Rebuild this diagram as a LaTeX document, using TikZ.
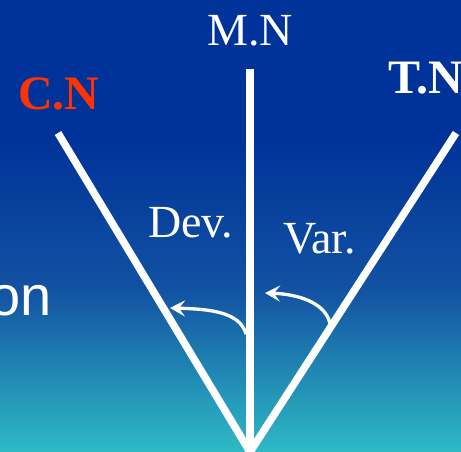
\documentclass[tikz,border=0pt]{standalone}
\usepackage{fontspec}
\setmainfont{Liberation Serif}
\newfontfamily\arialfont{Liberation Sans}
\usetikzlibrary{arrows.meta}
\definecolor{topblue}{RGB}{0,51,153}
\definecolor{midblue}{RGB}{18,82,162}
\definecolor{botteal}{RGB}{46,186,196}
\definecolor{cnred}{RGB}{255,51,0}
\tikzset{
  axisline/.style={white, line width=7.5pt},
  turnarrow/.style={white, line width=3.3pt, -{Stealth[length=15pt,width=16pt,inset=6pt]}},
  lbl/.style={inner sep=0pt, text=white, font=\fontsize{46}{50}\selectfont},
  boldlbl/.style={lbl, font=\fontsize{48}{52}\selectfont\bfseries},
}
\begin{document}
\begin{tikzpicture}[x=1pt,y=-1pt]
\useasboundingbox (0,0) rectangle (461,451);
\clip (0,0) rectangle (461,451);
\fill[topblue] (0,-1) rectangle (461,141);
\shade[top color=topblue, bottom color=midblue] (0,140) rectangle (461,290);
\shade[top color=midblue, bottom color=botteal] (0,289) rectangle (461,452);
% points
\coordinate (O) at (250,452);
\coordinate (mtop) at (250,69);
\coordinate (ctop) at (58,133);
\coordinate (ttop) at (456,133);
\draw[axisline] (O) -- (mtop);
\draw[axisline] (O) -- (ctop);
\draw[axisline] (O) -- (ttop);
% labels
\node[lbl, anchor=base] (mn) at (250,45) {M.N};
\node[boldlbl, anchor=base west, text=cnred] (cn) at (18,109) {C.N};
\node[boldlbl, anchor=base west] (tn) at (388,93) {T.N};
\node[lbl, anchor=base west] (dev) at (148,237) {Dev.};
\node[lbl, anchor=base west] (var) at (283,253) {Var.};
\node[lbl, anchor=base east, font=\fontsize{56}{60}\selectfont\arialfont] (on) at (52,315) {on};
% arrows
\coordinate (d1) at (246,334);
\coordinate (d2) at (170,308);
\coordinate (v1) at (330,324);
\coordinate (v2) at (265,293);
\draw[turnarrow] (d1) .. controls (240,312) and (210,309) .. (d2);
\draw[turnarrow] (v1) .. controls (326,302) and (296,294) .. (v2);
\end{tikzpicture}
\end{document}
